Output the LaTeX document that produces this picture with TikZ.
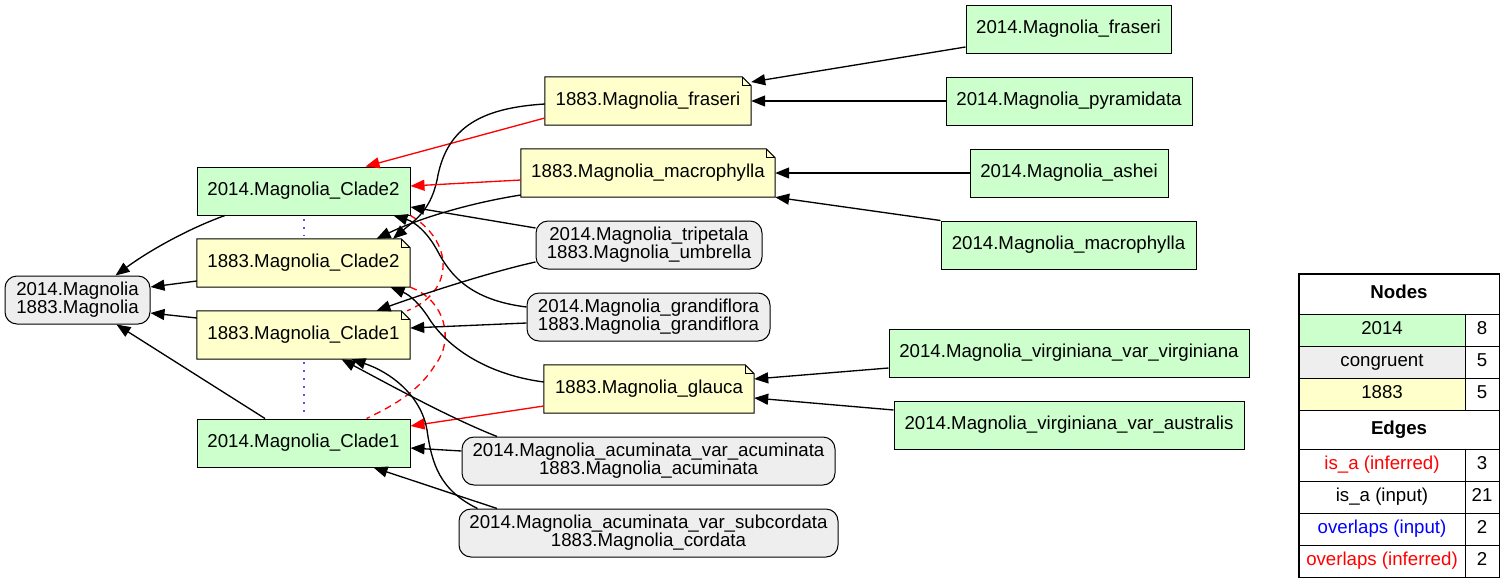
\documentclass[tikz,border=0pt]{standalone}
\usepackage{fontspec}
\setmainfont{Liberation Sans}
\usetikzlibrary{arrows.meta,backgrounds}
\definecolor{g14}{HTML}{CCFFCC}
\definecolor{y83}{HTML}{FFFFCC}
\definecolor{gc}{HTML}{EEEEEE}
\definecolor{ovblue}{RGB}{80,80,255}
\begin{document}
\begin{tikzpicture}[x=1pt,y=-1pt,
  every node/.style={font=\fontsize{18.67}{18}\selectfont, inner sep=0pt, minimum height=48pt},
  box14/.style={draw, line width=1pt, fill=g14},
  cong/.style={draw, line width=1pt, fill=gc, rounded corners=12pt, align=center},
  isa/.style={line width=1.33pt, -{Triangle[length=14pt,width=11pt]}},
  isainf/.style={isa, red},
  ovin/.style={draw=ovblue, line width=2pt, dash pattern=on 2pt off 6pt},
  ovinf/.style={line width=1.33pt, red, dash pattern=on 7pt off 5pt},
  lg/.style={draw, line width=1pt, minimum height=32pt, text height=13.4pt, text depth=3.6pt},
  lgh/.style={lg, minimum width=200pt, font=\fontsize{18.67}{18}\selectfont\bfseries},
  lgl/.style={lg, minimum width=166pt},
  lgr/.style={lg, minimum width=34pt},
  ]
\useasboundingbox (0,0) rectangle (1504,581);

% left column
\node[cong, minimum width=145pt] (m) at (77.5,300) {2014.Magnolia\\1883.Magnolia};
\node[box14, minimum width=213pt] (c2a) at (303.5,191) {2014.Magnolia\_Clade2};
\node[minimum width=213pt] (c2b) at (303.5,263) {1883.Magnolia\_Clade2};
\node[minimum width=213pt] (c1b) at (303.5,335) {1883.Magnolia\_Clade1};
\node[box14, minimum width=213pt] (c1a) at (303.5,443) {2014.Magnolia\_Clade1};

% middle column
\node[minimum width=206pt] (fr83) at (648,101) {1883.Magnolia\_fraseri};
\node[minimum width=254pt] (ma83) at (648,173) {1883.Magnolia\_macrophylla};
\node[cong, minimum width=226pt] (tri) at (649,245) {2014.Magnolia\_tripetala\\1883.Magnolia\_umbrella};
\node[cong, minimum width=243pt] (gra) at (648.5,317) {2014.Magnolia\_grandiflora\\1883.Magnolia\_grandiflora};
\node[minimum width=210pt] (gl83) at (649,389) {1883.Magnolia\_glauca};
\node[cong, minimum width=373pt] (acu) at (648.5,461) {2014.Magnolia\_acuminata\_var\_acuminata\\1883.Magnolia\_acuminata};
\node[cong, minimum width=379pt] (sub) at (648.5,533) {2014.Magnolia\_acuminata\_var\_subcordata\\1883.Magnolia\_cordata};

% right column
\node[box14, minimum width=205pt] (fr14) at (1068.5,29) {2014.Magnolia\_fraseri};
\node[box14, minimum width=246pt] (pyr) at (1069,101) {2014.Magnolia\_pyramidata};
\node[box14, minimum width=198pt] (ash) at (1069,173) {2014.Magnolia\_ashei};
\node[box14, minimum width=255pt] (ma14) at (1068.5,245) {2014.Magnolia\_macrophylla};
\node[box14, minimum width=360pt] (vv) at (1069,353) {2014.Magnolia\_virginiana\_var\_virginiana};
\node[box14, minimum width=350pt] (va) at (1069,425) {2014.Magnolia\_virginiana\_var\_australis};

% note outlines
\begin{pgfonlayer}{background}
\foreach \n in {c2b,c1b,fr83,ma83,gl83}{
  \filldraw[fill=y83, line width=1pt] (\n.south west) -- (\n.north west) -- ([xshift=-9pt]\n.north east)
    -- ([yshift=-9pt]\n.north east) -- (\n.south east) -- cycle;
  \draw[line width=0.9pt] ([xshift=-9pt]\n.north east) -- ([xshift=-9pt,yshift=-9pt]\n.north east) -- ([yshift=-9pt]\n.north east);
}
\end{pgfonlayer}

% edges to root
\draw[isa] ([xshift=-78.5pt]c2a.south) .. controls (190,228) and (150,250) .. ([xshift=38pt]m.north);
\draw[isa] ([yshift=-18pt]c2b.west) -- ([yshift=13pt]m.east);
\draw[isa] ([yshift=17pt]c1b.west) -- ([yshift=-13pt]m.east);
\draw[isa] ([xshift=-38.5pt]c1a.north) -- ([xshift=39pt]m.south);

% overlaps input
\path[ovin] ([yshift=-3pt]c2a.south) -- ([yshift=3pt]c2b.north);
\path[ovin] ([yshift=-3pt]c1b.south) -- ([yshift=3pt]c1a.north);

% overlaps inferred
\draw[ovinf] (c2a.south east) .. controls (452,240) and (457,290) .. ([xshift=-3pt]c1b.north east);
\draw[ovinf] (c2b.south east) .. controls (445,300) and (455,340) .. (435,365) .. controls (420,390) and (395,405) .. ([xshift=63pt]c1a.north);

% middle to left
\draw[isainf] ([yshift=-17pt]fr83.west) -- ([xshift=62pt]c2a.north);
\draw[isa] ([yshift=-3pt]fr83.west) .. controls (480,108) and (448,128) .. (438,175) .. controls (432,210) and (415,220) .. ([xshift=89.5pt]c2b.north);
\draw[isainf] ([yshift=-7pt]ma83.west) -- ([yshift=5pt]c2a.east);
\draw[isa] ([yshift=-22pt]ma83.west) .. controls (470,203) and (420,218) .. ([xshift=73pt]c2b.north);
\draw[isa] ([yshift=17pt]tri.west) -- ([yshift=-16pt]c2a.east);
\draw[isa] ([yshift=-17pt]tri.west) .. controls (490,272) and (420,295) .. ([xshift=73pt]c1b.north);
\draw[isa] ([yshift=10pt]gra.west) .. controls (470,300) and (450,275) .. (437,250) .. controls (427,232) and (415,222) .. ([xshift=90pt]c2a.south);
\draw[isa] ([yshift=-6pt]gra.west) -- ([yshift=7pt]c1b.east);
\draw[isainf] ([yshift=-17pt]gl83.west) -- ([yshift=17pt]c1a.east);
\draw[isa] ([yshift=7pt]gl83.west) .. controls (490,375) and (450,350) .. (430,320) .. controls (420,304) and (410,295) .. ([xshift=87pt]c2b.south);
\draw[isa] ([yshift=10pt]acu.west) -- ([yshift=-5pt]c1a.east);
\draw[isa] ([xshift=-151.5pt]acu.north) .. controls (450,418) and (390,385) .. ([xshift=38pt]c1b.south);
\draw[isa] ([xshift=-151.5pt]sub.north) -- ([xshift=70pt]c1a.south);
\draw[isa] ([xshift=-171pt]sub.north) .. controls (440,490) and (432,465) .. (427,430) .. controls (421,395) and (390,372) .. ([xshift=48pt]c1b.south);

% right to middle
\draw[isa] ([yshift=-18pt]fr14.west) -- ([yshift=19pt]fr83.east);
\draw[isa] (pyr.west) -- (fr83.east);
\draw[isa] (ash.west) -- (ma83.east);
\draw[isa] (ma14.north west) -- (ma83.south east);
\draw[isa] ([yshift=-15pt]vv.west) -- ([yshift=10pt]gl83.east);
\draw[isa] ([yshift=15pt]va.west) -- ([yshift=-9pt]gl83.east);

% legend
\node[lgh, minimum height=40pt] (lnodes) at (1399,294) {Nodes};
\node[lgl, fill=g14] (l14) at (1382,330) {2014};
\node[lgr] (l14n) at (1482,330) {8};
\node[lgl, fill=gc] (lcg) at (1382,362) {congruent};
\node[lgr] (lcgn) at (1482,362) {5};
\node[lgl, fill=y83] (l83) at (1382,394) {1883};
\node[lgr] (l83n) at (1482,394) {5};
\node[lgh, minimum height=39pt] (ledges) at (1399,429.5) {Edges};
\node[lgl, text=red] (lia) at (1382,465) {is\_a (inferred)};
\node[lgr] (lian) at (1482,465) {3};
\node[lgl] (lii) at (1382,497) {is\_a (input)};
\node[lgr] (liin) at (1482,497) {21};
\node[lgl, text=blue] (loi) at (1382,529) {overlaps (input)};
\node[lgr] (loin) at (1482,529) {2};
\node[lgl, text=red] (lof) at (1382,561) {overlaps (inferred)};
\node[lgr] (lofn) at (1482,561) {2};
\draw[line width=1.6pt] (lnodes.north west) rectangle (lofn.south east);
\end{tikzpicture}
\end{document}
